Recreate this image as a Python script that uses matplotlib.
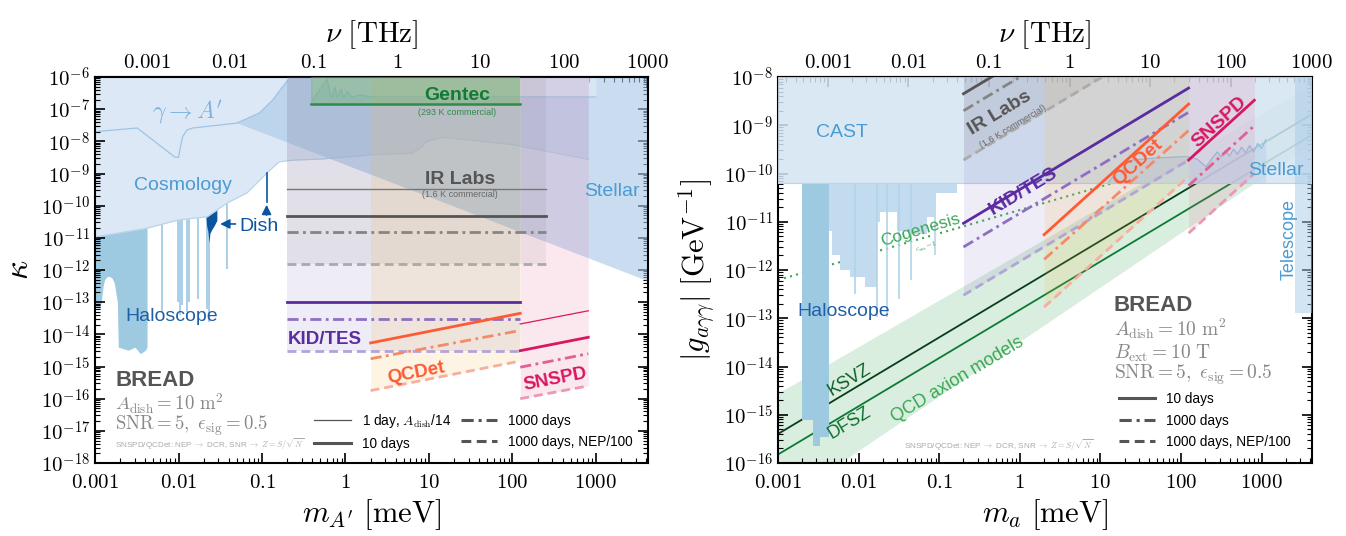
import numpy as np
import matplotlib
matplotlib.use("Agg")
import matplotlib.pyplot as plt
from matplotlib.lines import Line2D
from matplotlib.ticker import LogLocator, FixedLocator, FuncFormatter, NullFormatter

plt.rcParams['mathtext.fontset'] = 'cm'
plt.rcParams['font.family'] = ['Liberation Sans', 'DejaVu Sans']
plt.rcParams['axes.linewidth'] = 1.5

# ---------------- left panel data (m_A' in meV, kappa) ----------------
cosmo_m = [0.001, 0.0042, 0.01, 0.022, 0.038, 0.066, 0.115, 0.16, 0.23, 0.5, 2.0, 6.3, 7.5, 9.5, 14.5, 100, 810]
cosmo_k = [1.07e-11, 2.0e-11, 3.6e-11, 4.5e-11, 1.2e-10, 2.5e-10, 1.05e-9, 2.3e-9, 2.6e-9, 2.8e-9, 3.8e-9, 4.3e-9, 5.6e-9, 1.0e-8, 1.35e-8, 7.9e-9, 2.75e-9]

gam_m = [0.001, 0.0032, 0.0091, 0.01, 0.0105, 0.0112, 0.0126, 0.0148, 0.05, 0.093, 0.135, 0.2]
gam_k = [2.0e-8, 2.6e-8, 3.2e-9, 3.2e-9, 6.3e-9, 1.4e-8, 2.24e-8, 2.6e-8, 3.7e-8, 7.6e-8, 1.95e-7, 7.6e-7]

stellar_m = [0.05, 0.093, 0.135, 0.2, 0.215, 4200, 4200]
stellar_k = [3.7e-8, 7.6e-8, 1.95e-7, 7.6e-7, 1e-6, 1e-6, 4.5e-13]

box_m = [0.4, 0.6, 0.68, 0.75, 0.8, 0.88, 0.95, 1.05, 1.2, 1.5, 2, 1000]
box_k = [1.9e-7, 8.5e-7, 2.14e-7, 4.9e-7, 2.24e-7, 4.2e-7, 2.3e-7, 3.5e-7, 2.35e-7, 2.8e-7, 2.4e-7, 2.4e-7]

halo_m = [0.001, 0.00115, 0.0012, 0.00125, 0.0013, 0.0014, 0.0015, 0.0016, 0.0017, 0.0018, 0.00185, 0.0019, 0.0025, 0.003, 0.0035, 0.004, 0.0042]
halo_k = [7.9e-14, 6.3e-14, 1.26e-13, 3.2e-13, 5e-13, 6.3e-13, 6.3e-13, 5.6e-13, 4e-13, 1.6e-13, 1e-13, 4e-15, 3.2e-15, 4e-15, 2.5e-15, 3.2e-15, 4e-15]
spike_m = [0.0064, 0.0098, 0.0104, 0.011, 0.0128, 0.0133, 0.017, 0.0222, 0.0232, 0.038]
spike_k = [5e-14, 1e-13, 4e-14, 8e-14, 5e-14, 1e-13, 1.26e-13, 6.3e-14, 2.5e-14, 1.1e-12]
dish_m = [0.0214, 0.0218, 0.0225, 0.0232, 0.0238, 0.025, 0.027, 0.0288]
dish_k = [4e-11, 2.24e-11, 1.6e-11, 7e-12, 1.4e-11, 1.8e-11, 2.5e-11, 3.5e-11]

gentec_m = [0.39, 124]
gentec_k = [1.45e-7, 1.45e-7]
ir_m = [0.2, 250]
ir_1day = [3.2e-10, 3.2e-10]
ir_10d = [4.8e-11, 4.8e-11]
ir_1000d = [1.5e-11, 1.5e-11]
ir_nep = [1.55e-12, 1.55e-12]
kid_m = [0.2, 124]
kid_10d = [9.8e-14, 9.8e-14]
kid_1000d = [3.0e-14, 3.0e-14]
kid_nep = [3.1e-15, 3.1e-15]
qcd_m = [2, 124]
qcd_10d = [5.4e-15, 4.5e-14]
qcd_1000d = [1.74e-15, 1.32e-14]
qcd_nep = [1.78e-16, 1.48e-15]
sn_m = [124, 810]
sn_1day = [2.1e-14, 5.4e-14]
sn_10d = [3.1e-15, 8.1e-15]
sn_1000d = [9.5e-16, 2.5e-15]
sn_nep = [1.0e-16, 2.5e-16]

# ---------------- right panel data (m_a in meV, g in GeV^-1) ----------------
cast_g = 6.5e-11
halo2_m = [0.00198, 0.0027, 0.0033, 0.0043]
halo2_g = [7.9e-16, 2.2e-16, 3.5e-16, 3.5e-16]
halo3_m = [0.0043, 0.0047, 0.0058, 0.0078, 0.0119, 0.0168, 0.0183, 0.0297, 0.045, 0.07, 0.085, 0.09, 0.166]
halo3_g = [6.3e-12, 2e-12, 1e-12, 7e-13, 4.5e-13, 1e-11, 1.6e-11, 6.3e-12, 5.6e-12, 1.26e-11, 2e-12, 4e-11, 4e-11]
spike2_m = [0.009, 0.017, 0.0225, 0.032, 0.045]
spike2_g = [3.2e-13, 1.07e-13, 1.07e-13, 2.5e-13, 6.3e-13]
noise_m = [12.6, 17.8, 24.5, 50, 115, 158, 204, 251, 282, 316, 355, 398, 447, 501, 562, 631, 708, 794, 891, 1000, 1122]
noise_g = [6.5e-11, 1.41e-10, 1.9e-10, 2.1e-10, 2.24e-10, 2.0e-10, 1.38e-10, 2.24e-10, 2.8e-10, 2.2e-10, 3.0e-10,
           2.3e-10, 3.2e-10, 2.5e-10, 3.5e-10, 2.7e-10, 3.8e-10, 2.8e-10, 4.2e-10, 3.3e-10, 5e-10]
tele_m = [2600, 4200]
tele_g = [1.3e-13, 1.3e-13]

axion_m = [0.001, 4200]
band_hi = [2.8e-15, 7.0e-9]
band_lo = [1.35e-17, 4.1e-10]
ksvz_g = [4.0e-16, 1.7e-9]
dfsz_g = [1.5e-16, 6.3e-10]
cog_m = [0.001, 15]
cog_g = [6.2e-13, 6.5e-11]

kid2_10d = [9.3e-12, 5.9e-9]
kid2_1000d = [3.0e-12, 1.86e-9]
kid2_nep = [3.0e-13, 1.9e-10]
ir2_10d = [4.5e-9, 5.7e-6]
ir2_1000d = [2.0e-9, 2.5e-6]
ir2_nep = [1.9e-10, 2.4e-7]
qcd2_10d = [5.4e-12, 2.75e-9]
qcd2_1000d = [1.66e-12, 7.8e-10]
qcd2_nep = [1.7e-13, 8.7e-11]
sn2_10d = [1.9e-10, 3.3e-9]
sn2_1000d = [5.6e-11, 9.8e-10]
sn2_nep = [5.8e-12, 1.0e-10]

xt = [1e-3, 1e-2, 1e-1, 1, 10, 100, 1000]
xt_lab = ['0.001', '0.01', '0.1', '1', '10', '100', '1000']

PURPLE = ['#5b2ca0', '#8e6fc2', '#b3a3d8']
ORANGE = ['#ff5a33', '#f48a6a', '#f7ae9e']
PINK = ['#d8175e', '#e0608f', '#eb97b6']
GREY = ['#777777', '#555555', '#858585', '#aaaaaa']

fig = plt.figure(figsize=(13.46, 5.36), dpi=100)
ax1 = fig.add_axes([0.0706, 0.1362, 0.4108, 0.7201])
ax2 = fig.add_axes([0.578, 0.1362, 0.3967, 0.7201])


def setup(ax, ylim):
    ax.set_xscale('log')
    ax.set_yscale('log')
    ax.set_xlim(1e-3, 4.2e3)
    ax.set_ylim(*ylim)
    ax.xaxis.set_major_locator(FixedLocator(xt))
    ax.xaxis.set_major_formatter(FuncFormatter(lambda v, p: '$%s$' % xt_lab[xt.index(v)] if v in xt else ''))
    ax.xaxis.set_minor_locator(LogLocator(subs=np.arange(2, 10), numticks=100))
    ax.xaxis.set_minor_formatter(NullFormatter())
    ax.yaxis.set_major_locator(LogLocator(numticks=100))
    ax.yaxis.set_major_formatter(FuncFormatter(lambda v, p: r'$10^{%d}$' % round(np.log10(v))))
    ax.yaxis.set_minor_locator(LogLocator(subs=np.arange(2, 10), numticks=100))
    ax.yaxis.set_minor_formatter(NullFormatter())
    ax.tick_params(which='both', direction='in', right=True, top=False, labelsize=15)
    ax.tick_params(which='major', length=7, width=1.2)
    ax.tick_params(which='minor', length=3.5, width=0.8)
    ax.tick_params(axis='x', pad=7)
    sec = ax.secondary_xaxis('top', functions=(lambda m: m / 4.1357, lambda v: v * 4.1357))
    sec.set_xticks(xt, labels=['$%s$' % s for s in xt_lab])
    sec.xaxis.set_minor_locator(LogLocator(subs=np.arange(2, 10), numticks=100))
    sec.xaxis.set_minor_formatter(NullFormatter())
    sec.tick_params(which='both', direction='in', labelsize=15)
    sec.tick_params(which='major', length=7, width=1.2)
    sec.tick_params(which='minor', length=3.5, width=0.8)
    sec.set_xlabel(r'$\nu\ [\mathrm{THz}]$', fontsize=21, labelpad=8)


setup(ax1, (1e-18, 1e-6))
setup(ax2, (1e-16, 1e-8))

dd = (0, (4, 1.6, 1, 1.6))
da = (0, (3.2, 1.8))

# ================= LEFT PANEL =================
ax = ax1
ax.fill_between(halo_m, halo_k, 1e-9, color='#9ecae1', lw=0, zorder=1)
ax.vlines(spike_m, spike_k, 1e-9, color='#a9cfe7', lw=1.4, zorder=1)
ax.fill_between(dish_m, dish_k, 1e-9, color='#0b559f', lw=0, zorder=1.1)
ax.fill_between(cosmo_m, cosmo_k, 1e-6, color='#dce8f5', lw=0, zorder=1.5)
ax.plot(cosmo_m, cosmo_k, color='#b5d3ec', lw=0.8, zorder=1.6)
ax.fill(stellar_m, stellar_k, color='#a7c7e7', alpha=0.6, lw=0, zorder=2)
ax.plot(gam_m, gam_k, color='#9cc5e6', lw=0.9, zorder=2.1)
ax.fill_between(box_m, box_k, 1e-6, color='#eaf2fa', alpha=0.45, lw=0, zorder=2.2)
ax.plot(box_m, box_k, color='#93c4e0', lw=0.8, zorder=2.2)

# detector bands
ax.fill_between(kid_m, kid_nep, 1e-6, color='#8c7cc0', alpha=0.14, lw=0, zorder=3)
ax.fill_between(ir_m, ir_nep, 1e-6, color='#707070', alpha=0.10, lw=0, zorder=3)
ax.fill_between(qcd_m, qcd_nep, 1e-6, color='#f3b94a', alpha=0.15, lw=0, zorder=3)
ax.fill_between(sn_m, sn_nep, 1e-6, color='#e86a9a', alpha=0.15, lw=0, zorder=3)
ax.fill_between(gentec_m, gentec_k, 1e-6, color='#6fb56e', alpha=0.45, lw=0, zorder=3)

ax.plot(gentec_m, gentec_k, color='#2e8b4a', lw=1.8, zorder=5)
ax.plot(ir_m, ir_1day, color=GREY[0], lw=1.0, zorder=5)
ax.plot(ir_m, ir_10d, color=GREY[1], lw=2.0, zorder=5)
ax.plot(ir_m, ir_1000d, color=GREY[2], lw=2.0, ls=dd, zorder=5)
ax.plot(ir_m, ir_nep, color=GREY[3], lw=2.0, ls=da, zorder=5)
ax.plot(kid_m, kid_10d, color=PURPLE[0], lw=2.0, zorder=5)
ax.plot(kid_m, kid_1000d, color=PURPLE[1], lw=2.0, ls=dd, zorder=5)
ax.plot(kid_m, kid_nep, color=PURPLE[2], lw=2.0, ls=da, zorder=5)
ax.plot(qcd_m, qcd_10d, color=ORANGE[0], lw=2.0, zorder=5)
ax.plot(qcd_m, qcd_1000d, color=ORANGE[1], lw=2.0, ls=dd, zorder=5)
ax.plot(qcd_m, qcd_nep, color=ORANGE[2], lw=2.0, ls=da, zorder=5)
ax.plot(sn_m, sn_1day, color=PINK[0], lw=0.9, zorder=5)
ax.plot(sn_m, sn_10d, color=PINK[0], lw=2.0, zorder=5)
ax.plot(sn_m, sn_1000d, color=PINK[1], lw=2.0, ls=dd, zorder=5)
ax.plot(sn_m, sn_nep, color=PINK[2], lw=2.0, ls=da, zorder=5)

# Dish arrows
ax.plot([0.1135, 0.1135], [1.26e-10, 1.05e-9], color='#0b559f', lw=1.2, zorder=6)
ax.annotate('', xy=(0.1135, 1.3e-10), xytext=(0.1135, 4.2e-11),
            arrowprops=dict(arrowstyle='-|>', color='#0b559f', lw=1.2, mutation_scale=14), zorder=6)
ax.annotate('', xy=(0.0292, 2.7e-11), xytext=(0.052, 2.7e-11),
            arrowprops=dict(arrowstyle='-|>', color='#0b559f', lw=1.2, mutation_scale=14), zorder=6)
ax.text(0.093, 2.3e-11, 'Dish', color='#0b559f', fontsize=14, ha='center', va='center', zorder=6)

ax.text(0.0129, 8e-8, r"$\gamma\rightarrow A'$", color='#7db4df', fontsize=17, ha='center', va='center', zorder=6)
ax.text(0.0112, 4.1e-10, 'Cosmology', color='#4a9bd4', fontsize=14, ha='center', va='center', zorder=6)
ax.text(0.0083, 3.5e-14, 'Haloscope', color='#1f5ea8', fontsize=14, ha='center', va='center', zorder=6)
ax.text(1550, 2.7e-10, 'Stellar', color='#4a9bd4', fontsize=14, ha='center', va='center', zorder=6)
ax.text(22, 2.75e-7, 'Gentec', color='#137a36', fontsize=14, fontweight='bold', ha='center', va='center', zorder=6)
ax.text(22, 8.1e-8, '(293 K commercial)', color='#2e8b4a', fontsize=6.5, ha='center', va='center', zorder=6)
ax.text(23.5, 6.3e-10, 'IR Labs', color='#555555', fontsize=14, fontweight='bold', ha='center', va='center', zorder=6)
ax.text(23.5, 2.2e-10, '(1.6 K commercial)', color='#666666', fontsize=6.5, ha='center', va='center', zorder=6)
ax.text(0.56, 6.8e-15, 'KID/TES', color=PURPLE[0], fontsize=13.5, fontweight='bold', ha='center', va='center', zorder=6)
ax.text(7, 6.3e-16, 'QCDet', color='#ff5a33', fontsize=13.5, fontweight='bold', ha='center', va='center',
        rotation=11, zorder=6)
ax.text(330, 4.0e-16, 'SNSPD', color=PINK[0], fontsize=13.5, fontweight='bold', ha='center', va='center',
        rotation=11, zorder=6)

ax.text(0.00174, 3.6e-16, 'BREAD', color='#555555', fontsize=16, fontweight='bold', ha='left', va='center', zorder=6)
ax.text(0.00174, 6.9e-17, r'$A_{\rm dish} = 10\ {\rm m}^2$', color='#888888', fontsize=13.5, ha='left', va='center')
ax.text(0.00174, 1.45e-17, r'${\rm SNR} = 5,\ \epsilon_{\rm sig} = 0.5$', color='#888888', fontsize=13.5, ha='left', va='center')
ax.text(0.00174, 3.8e-18, r'SNSPD/QCDet: NEP $\rightarrow$ DCR, SNR $\rightarrow$ $Z = S/\sqrt{N}$', color='#aaaaaa',
        fontsize=5.9, ha='left', va='center')

leg_handles = [Line2D([], [], color='#555555', lw=0.9),
               Line2D([], [], color='#555555', lw=2.2),
               Line2D([], [], color='#555555', lw=2.2, ls=dd),
               Line2D([], [], color='#555555', lw=2.2, ls=da)]
leg_labels = [r'1 day, $A_{\rm dish}$/14', '10 days', '1000 days', '1000 days, NEP/100']
ax.legend(leg_handles, leg_labels, ncol=2, loc='lower right', bbox_to_anchor=(0.995, 0.0), frameon=False,
          fontsize=9.8, handlelength=2.7, columnspacing=0.7, handletextpad=0.8, labelspacing=0.5)

ax.set_xlabel(r"$m_{A'}\ [\mathrm{meV}]$", fontsize=22, labelpad=4)
ax.set_ylabel(r'$\kappa$', fontsize=24, labelpad=4)

# ================= RIGHT PANEL =================
ax = ax2
ax.fill_between(axion_m, band_lo, band_hi, color='#41ab5d', alpha=0.2, lw=0, zorder=1)
ax.plot(axion_m, ksvz_g, color='#0a3d1a', lw=1.3, zorder=2)
ax.plot(axion_m, dfsz_g, color='#0d7a35', lw=1.3, zorder=2)
ax.plot(cog_m, cog_g, color='#3aa655', lw=1.5, ls=(0, (1, 2)), zorder=2)
ax.fill_between(halo2_m, halo2_g, cast_g, step='post', color='#9ecae1', lw=0, zorder=2.5)
ax.fill_between(halo3_m, halo3_g, cast_g, step='post', color='#c3dbef', lw=0, zorder=2.5)
ax.vlines(spike2_m, spike2_g, cast_g, color='#b2d3ea', lw=1.2, zorder=2.5)
ax.fill_between([1e-3, 4.2e3], cast_g, 1e-8, color='#d4e4f3', alpha=0.85, lw=0, zorder=3)
ax.plot([1e-3, 4.2e3], [cast_g, cast_g], color='#b8d3ea', lw=0.8, zorder=3)
ax.fill_between(noise_m, cast_g, noise_g, color='#a9cbe6', alpha=0.35, lw=0, zorder=3.2)
ax.plot(noise_m, noise_g, color='#8fbfe0', lw=0.9, zorder=3.2)
ax.fill_between(tele_m, tele_g, 1e-8, color='#a9cbe6', alpha=0.5, lw=0, zorder=3.1)

ax.fill_between(kid_m, kid2_nep, 1e-8, color='#8c7cc0', alpha=0.14, lw=0, zorder=3.5)
ax.fill_between(ir_m, ir2_nep, 1e-8, color='#707070', alpha=0.12, lw=0, zorder=3.5)
ax.fill_between(qcd_m, qcd2_nep, 1e-8, color='#f3b94a', alpha=0.15, lw=0, zorder=3.5)
ax.fill_between(sn_m, sn2_nep, 1e-8, color='#e86a9a', alpha=0.15, lw=0, zorder=3.5)

ax.plot(ir_m, ir2_10d, color=GREY[1], lw=2.0, zorder=5)
ax.plot(ir_m, ir2_1000d, color=GREY[2], lw=2.0, ls=dd, zorder=5)
ax.plot(ir_m, ir2_nep, color=GREY[3], lw=2.0, ls=da, zorder=5)
ax.plot(kid_m, kid2_10d, color=PURPLE[0], lw=2.0, zorder=5)
ax.plot(kid_m, kid2_1000d, color=PURPLE[1], lw=2.0, ls=dd, zorder=5)
ax.plot(kid_m, kid2_nep, color=PURPLE[2], lw=2.0, ls=da, zorder=5)
ax.plot(qcd_m, qcd2_10d, color=ORANGE[0], lw=2.0, zorder=5)
ax.plot(qcd_m, qcd2_1000d, color=ORANGE[1], lw=2.0, ls=dd, zorder=5)
ax.plot(qcd_m, qcd2_nep, color=ORANGE[2], lw=2.0, ls=da, zorder=5)
ax.plot(sn_m, sn2_10d, color=PINK[0], lw=2.0, zorder=5)
ax.plot(sn_m, sn2_1000d, color=PINK[1], lw=2.0, ls=dd, zorder=5)
ax.plot(sn_m, sn2_nep, color=PINK[2], lw=2.0, ls=da, zorder=5)

ax.text(0.0063, 7.2e-10, 'CAST', color='#4a9bd4', fontsize=14, ha='center', va='center', zorder=6)
ax.text(0.56, 1.75e-9, 'IR Labs', color='#555555', fontsize=14, fontweight='bold', ha='center', va='center',
        rotation=31, zorder=6)
ax.text(0.82, 9.3e-10, '(1.6 K commercial)', color='#666666', fontsize=6.5, ha='center', va='center',
        rotation=31, zorder=6)
ax.text(1.1, 4.3e-11, 'KID/TES', color=PURPLE[0], fontsize=14, fontweight='bold', ha='center', va='center',
        rotation=31, zorder=6)
ax.text(29, 1.66e-10, 'QCDet', color='#ff5a33', fontsize=14, fontweight='bold', ha='center', va='center',
        rotation=42, zorder=6)
ax.text(295, 1.17e-9, 'SNSPD', color=PINK[0], fontsize=14, fontweight='bold', ha='center', va='center',
        rotation=42, zorder=6)
ax.text(1500, 1.17e-10, 'Stellar', color='#4a9bd4', fontsize=14, ha='center', va='center', zorder=6)
ax.text(2200, 4.2e-12, 'Telescope', color='#4a9bd4', fontsize=13, ha='center', va='center', rotation=90, zorder=6)
ax.text(0.0066, 1.4e-13, 'Haloscope', color='#1f5ea8', fontsize=14, ha='center', va='center', zorder=6)
ax.text(0.058, 6.8e-12, 'Cogenesis', color='#3aa655', fontsize=12.5, ha='center', va='center', rotation=16.6, zorder=6)
ax.text(0.07, 3.0e-12, r'$c_{\rm am} = 1$', color='#3aa655', fontsize=5, ha='center', va='center', rotation=16.6, zorder=6)
ax.text(0.0077, 5.2e-15, 'KSVZ', color='#0d5e28', fontsize=13, ha='center', va='center', rotation=31, zorder=6)
ax.text(0.0077, 6.8e-16, 'DFSZ', color='#0d6e2e', fontsize=13, ha='center', va='center', rotation=31, zorder=6)
ax.text(0.166, 5.2e-15, 'QCD axion models', color='#3aa655', fontsize=13, ha='center', va='center', rotation=31, zorder=6)

ax.text(14.7, 1.86e-13, 'BREAD', color='#555555', fontsize=16, fontweight='bold', ha='left', va='center', zorder=6)
ax.text(14.7, 6.0e-14, r'$A_{\rm dish} = 10\ {\rm m}^2$', color='#888888', fontsize=14, ha='left', va='center')
ax.text(14.7, 1.9e-14, r'$B_{\rm ext} = 10\ {\rm T}$', color='#888888', fontsize=14, ha='left', va='center')
ax.text(14.7, 6.6e-15, r'${\rm SNR} = 5,\ \epsilon_{\rm sig} = 0.5$', color='#888888', fontsize=14, ha='left', va='center')
ax.text(0.037, 2.3e-16, r'SNSPD/QCDet: NEP $\rightarrow$ DCR, SNR $\rightarrow$ $Z = S/\sqrt{N}$', color='#aaaaaa',
        fontsize=5.9, ha='left', va='center')

ax.legend(leg_handles[1:], leg_labels[1:], loc='upper left', bbox_to_anchor=(0.615, 0.215), frameon=False,
          fontsize=9.8, handlelength=2.7, handletextpad=0.8, labelspacing=0.55)

ax.set_xlabel(r'$m_a\ [\mathrm{meV}]$', fontsize=22, labelpad=4)
ax.set_ylabel(r'$|g_{a\gamma\gamma}|\ [\mathrm{GeV}^{-1}]$', fontsize=22, labelpad=4)

fig.savefig('out.png', dpi=100)
